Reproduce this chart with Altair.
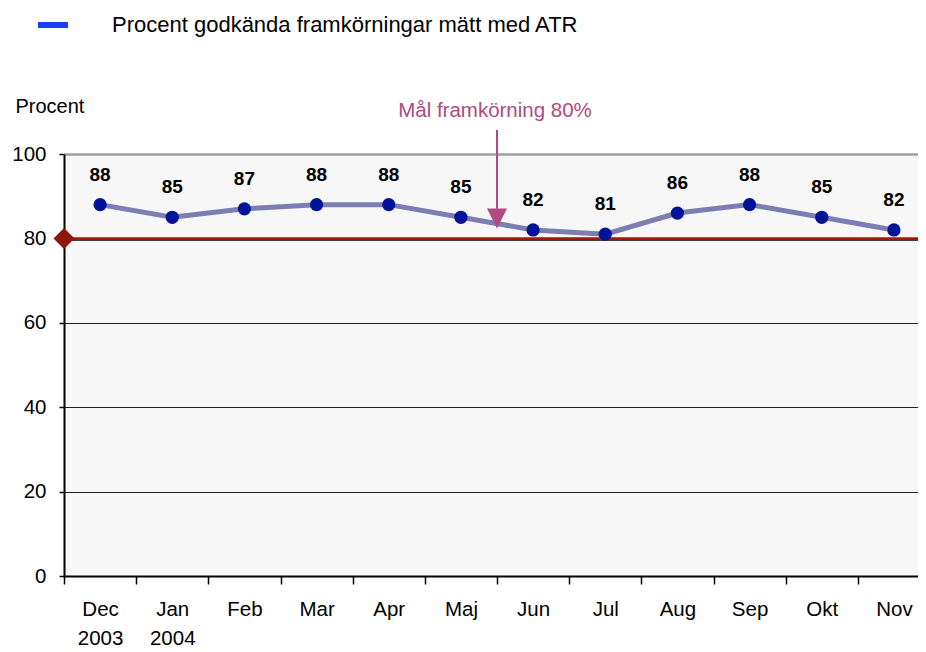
import altair as alt
import pandas as pd

months = ["Dec", "Jan", "Feb", "Mar", "Apr", "Maj", "Jun", "Jul", "Aug", "Sep", "Okt", "Nov"]
values = [88, 85, 87, 88, 88, 85, 82, 81, 86, 88, 85, 82]
series_name = "Procent godkända framkörningar mätt med ATR"
goal = 80
goal_label = "Mål framkörning 80%"
y_ticks = [0, 20, 40, 60, 80, 100]

df = pd.DataFrame({"month": months, "value": values, "series": [series_name] * len(months)})
goal_df = pd.DataFrame({"goal": [goal]})
ends_df = pd.DataFrame({"month": [months[0], months[-1]], "goal": [goal, goal], "pos": [0, 1]})

FONT = "Liberation Sans, Arial, sans-serif"
BOLD_FONT = "Liberation Sans, Arial, sans-serif"

x_scale = alt.Scale(domain=months, range=[0, 866], paddingInner=0, paddingOuter=0)
y_scale = alt.Scale(domain=[0, 100], nice=False, zero=True)

label_expr = ("datum.value == 'Dec' ? ['Dec', '2003'] : "
              "(datum.value == 'Jan' ? ['Jan', '2004'] : datum.value)")

x_enc = alt.X(
    "month:N", scale=x_scale, sort=months,
    axis=alt.Axis(
        title=None, labelAngle=0, tickBand="extent", labelExpr=label_expr,
        labelFont=FONT, labelFontSize=20.5, labelColor="#000000", labelPadding=15,
        labelLineHeight=29, domainColor="#000000", domainWidth=2,
        tickColor="#000000", tickWidth=1.5, tickSize=8, grid=False,
    ),
)

y_enc = alt.Y(
    "value:Q", scale=y_scale,
    axis=alt.Axis(
        values=y_ticks, title="Procent", titleAngle=0, titleAlign="left",
        titleBaseline="alphabetic", titleX=-49, titleY=-42,
        titleFont=FONT, titleFontSize=20, titleFontWeight="normal", titleColor="#000000",
        labelFont=FONT, labelFontSize=20.5, labelColor="#000000", labelPadding=13,
        domainColor="#000000", domainWidth=2, tickColor="#000000", tickSize=5, tickWidth=1.5,
        grid=True,
        gridColor=alt.condition("datum.value == 100", alt.value("#a0a0a0"), alt.value("#202020")),
        gridWidth=alt.condition("datum.value == 100", alt.value(2.5), alt.value(1)),
    ),
)

line = alt.Chart(df).mark_line(color="#7b7db3", strokeWidth=5).encode(x=x_enc, y=y_enc)

legend_layer = alt.Chart(df).transform_filter("false").mark_point(
    filled=True, opacity=1
).encode(
    x=alt.X("month:N", scale=x_scale, sort=months),
    y=alt.Y("value:Q", scale=y_scale),
    color=alt.Color(
        "series:N",
        scale=alt.Scale(domain=[series_name], range=["#1a3cff"]),
        legend=alt.Legend(
            title=None, orient="none", legendX=-26, legendY=-144, padding=0,
            symbolType="M-1,-0.2L1,-0.2L1,0.2L-1,0.2Z", symbolSize=900,
            symbolFillColor="#1a3cff", symbolStrokeColor="#1a3cff", symbolStrokeWidth=0,
            symbolOpacity=1, labelFont=FONT, labelFontSize=22, labelColor="#000000",
            labelOffset=44, labelLimit=800,
        ),
    ),
)

goal_rule_black = alt.Chart(goal_df).mark_rule(color="#000000", strokeWidth=1.5, yOffset=1.5).encode(
    y=alt.Y("goal:Q", scale=y_scale)
)
goal_rule = alt.Chart(goal_df).mark_rule(color="#a01a05", strokeWidth=2.5).encode(
    y=alt.Y("goal:Q", scale=y_scale)
)

diamonds = alt.Chart(ends_df).transform_filter("datum.pos == 0").mark_point(
    shape="diamond", filled=True, size=440, color="#8e1706", opacity=1
).encode(
    x=alt.X("month:N", scale=x_scale, sort=months, bandPosition=0),
    y=alt.Y("goal:Q", scale=y_scale),
)
diamonds_r = alt.Chart(ends_df).transform_filter("datum.pos == 1").mark_point(
    shape="diamond", filled=True, size=440, color="#8e1706", opacity=1
).encode(
    x=alt.X("month:N", scale=x_scale, sort=months, bandPosition=1),
    y=alt.Y("goal:Q", scale=y_scale),
)

points = alt.Chart(df).mark_point(filled=True, size=175, color="#001499", opacity=1).encode(
    x=alt.X("month:N", scale=x_scale, sort=months),
    y=alt.Y("value:Q", scale=y_scale),
)

labels = alt.Chart(df).mark_text(
    font=BOLD_FONT, fontSize=19, fontWeight="bold", color="#000000", dy=-24, baseline="alphabetic"
).encode(
    x=alt.X("month:N", scale=x_scale, sort=months),
    y=alt.Y("value:Q", scale=y_scale),
    text="value:Q",
)

ann_df = pd.DataFrame({"month": ["Jun"], "label": [goal_label]})
ann_color = "#b04a80"

ann_text = alt.Chart(ann_df).mark_text(
    font=FONT, fontSize=20.5, color=ann_color, baseline="alphabetic", dx=-2
).encode(
    x=alt.X("month:N", scale=x_scale, sort=months, bandPosition=0),
    y=alt.datum(108.8, scale=y_scale),
    text="label:N",
)
ann_rule = alt.Chart(ann_df).mark_rule(color=ann_color, strokeWidth=2).encode(
    x=alt.X("month:N", scale=x_scale, sort=months, bandPosition=0),
    y=alt.datum(105.7, scale=y_scale),
    y2=alt.datum(87),
)
ann_head = alt.Chart(ann_df).mark_point(
    shape="M-1,-1L1,-1L0,1Z", filled=True, size=400, color=ann_color, opacity=1
).encode(
    x=alt.X("month:N", scale=x_scale, sort=months, bandPosition=0),
    y=alt.datum(84.7, scale=y_scale),
)

chart = alt.layer(
    line, legend_layer, goal_rule_black, goal_rule, diamonds, diamonds_r,
    points, labels, ann_rule, ann_head, ann_text,
).properties(
    width=854, height=422,
    autosize=alt.AutoSizeParams(type="none"),
    padding={"left": 56, "top": 146, "right": 0, "bottom": 76},
    background="#ffffff",
).configure_view(
    fill="#f7f7f7", stroke=None,
)

chart.save("out.html", embed_options={"renderer": "svg", "actions": False})
